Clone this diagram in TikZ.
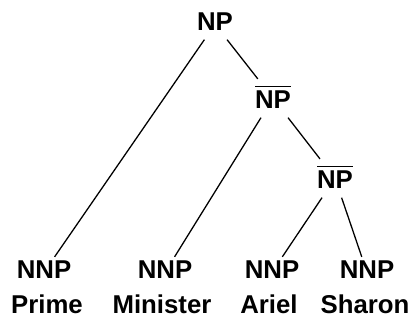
\documentclass[tikz,border=0pt]{standalone}
\usepackage{fontspec}
\setmainfont{Liberation Sans}
\newcommand{\barred}[1]{\leavevmode\vbox{\hrule height 1.3pt\kern 3.6pt\hbox{#1}}}
\tikzset{
  cat/.style={font=\bfseries\fontsize{22}{26}\selectfont, inner sep=0pt, text height=18.7pt, text depth=7.2pt, anchor=base},
  barcat/.style={cat, text height=25.5pt},
  word/.style={font=\bfseries\fontsize{22}{26}\selectfont, inner sep=0pt, anchor=base},
  branch/.style={line width=1.1pt}
}

\begin{document}
\begin{tikzpicture}[x=0.03cm, y=-0.03cm]
						\useasboundingbox (0,0) rectangle (414,320);
						\node[cat] (np) at (215,31){NP};
						\node[barcat] (npbarA) at (273,109){\barred{NP}};
						\node[barcat] (npbarB) at (335,189){\barred{NP}};
						\node[cat] (nnpPrime) at (44,279){NNP};
						\node[cat] (nnpMinister) at (165,279){NNP};
						\node[cat] (nnpAriel) at (272,279){NNP};
						\node[cat] (nnpSharon) at (367,279){NNP};
						\node[word] (prime) at (47,314){Prime};
						\node[word] (minister) at (162,314){Minister};
						\node[word] (ariel) at (269,314){Ariel};
						\node[word] (sharon) at (365,314){Sharon};
						\draw[branch] (np) -- (nnpPrime);
						\draw[branch] (np) -- (npbarA);
						\draw[branch] (npbarA) -- (nnpMinister);
						\draw[branch] (npbarA) -- (npbarB);
						\draw[branch] (npbarB) -- (nnpAriel);
						\draw[branch] (npbarB) -- (nnpSharon);
					\end{tikzpicture}
\end{document}
